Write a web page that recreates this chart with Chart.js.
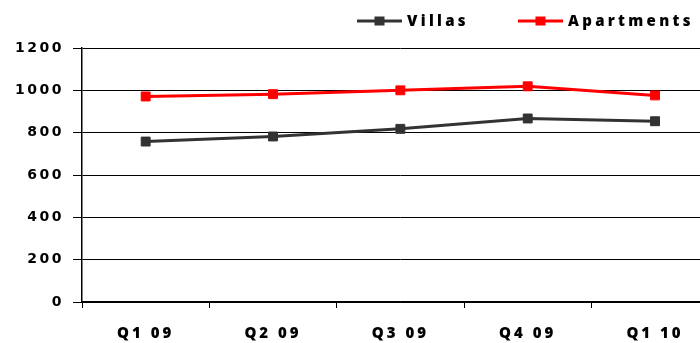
<!DOCTYPE html>
<html>
<head>
<meta charset="utf-8">
<script src="https://cdn.jsdelivr.net/npm/chart.js@4"></script>
<style>
  html, body { margin: 0; padding: 0; background: #fff; overflow: hidden; }
  #wrap { width: 726px; height: 343px; position: relative; }
</style>
</head>
<body>
<div id="wrap"><canvas id="chart"></canvas></div>
<script>
// Quarterly figures
const categories = ['Q1 09', 'Q2 09', 'Q3 09', 'Q4 09', 'Q1 10'];
const villas = [758, 782, 818, 867, 854];
const apartments = [971, 982, 1000, 1019, 976];
const yTicks = { min: 0, max: 1200, step: 200 };

// Letter spacing per axis for the tick labels
const AXIS_SPACING = { x: '3px', y: '2.5px' };

const spacedAxisLabels = {
  id: 'spacedAxisLabels',
  afterLayout(chart) {
    Object.keys(AXIS_SPACING).forEach(id => {
      const scale = chart.scales[id];
      if (!scale || scale.__spaced) return;
      const draw = scale.drawLabels;
      scale.drawLabels = function (area) {
        const ctx = this.ctx;
        ctx.save();
        ctx.letterSpacing = AXIS_SPACING[id];
        draw.call(this, area);
        ctx.restore();
      };
      scale.__spaced = true;
    });
  }
};

// Legend row above the plot: line sample with a square marker, then the series name
const lineLegend = {
  id: 'lineLegend',
  afterDraw(chart) {
    const ctx = chart.ctx;
    const starts = [357, 518];
    const y = 21;
    const sample = 45;
    chart.data.datasets.forEach((ds, i) => {
      const x0 = starts[i];
      ctx.save();
      ctx.strokeStyle = ds.borderColor;
      ctx.lineWidth = 3;
      ctx.beginPath();
      ctx.moveTo(x0, y);
      ctx.lineTo(x0 + sample, y);
      ctx.stroke();
      ctx.fillStyle = ds.pointBackgroundColor;
      ctx.fillRect(x0 + sample / 2 - 5, y - 4.5, 10, 9);
      ctx.fillStyle = '#000';
      ctx.font = '800 15px "Open Sans"';
      ctx.letterSpacing = '3.3px';
      ctx.textBaseline = 'middle';
      ctx.textAlign = 'left';
      ctx.fillText(ds.label, x0 + sample + 5, y + 1);
      ctx.restore();
    });
  }
};

new Chart(document.getElementById('chart'), {
  type: 'line',
  data: {
    labels: categories,
    datasets: [
      {
        label: 'Villas',
        data: villas,
        borderColor: '#333333',
        backgroundColor: '#333333',
        pointBackgroundColor: '#333333',
        pointBorderColor: '#333333',
        borderWidth: 3,
        pointStyle: 'rect',
        pointRadius: 6.3,
        pointBorderWidth: 1,
        tension: 0
      },
      {
        label: 'Apartments',
        data: apartments,
        borderColor: '#ff0000',
        backgroundColor: '#ff0000',
        pointBackgroundColor: '#ff0000',
        pointBorderColor: '#ff0000',
        borderWidth: 3,
        pointStyle: 'rect',
        pointRadius: 6.3,
        pointBorderWidth: 1,
        tension: 0
      }
    ]
  },
  options: {
    responsive: true,
    maintainAspectRatio: false,
    animation: false,
    layout: { padding: { top: 48, right: 0, bottom: 0, left: 0 } },
    plugins: {
      legend: { display: false },
      tooltip: { enabled: false }
    },
    scales: {
      x: {
        offset: true,
        grid: {
          display: true,
          offset: true,
          drawOnChartArea: false,
          drawTicks: true,
          tickLength: 6,
          color: '#000',
          lineWidth: 1
        },
        border: { display: true, color: '#000', width: 1.5 },
        ticks: {
          color: '#000',
          font: { family: '"Open Sans"', size: 15, weight: '800' },
          padding: 17,
          maxRotation: 0,
          autoSkip: false
        },
        afterFit(scale) { scale.height = 41; }
      },
      y: {
        min: yTicks.min,
        max: yTicks.max,
        grid: {
          color: '#000',
          lineWidth: 1,
          tickLength: 9,
          drawTicks: true
        },
        border: { display: true, color: '#000', width: 1.5 },
        ticks: {
          stepSize: yTicks.step,
          color: '#000',
          font: { family: '"DejaVu Sans"', size: 14, weight: 'bold' },
          padding: 9,
          callback: (value) => String(value)
        },
        afterFit(scale) { scale.width = 82; }
      }
    }
  },
  plugins: [spacedAxisLabels, lineLegend]
});
</script>
</body>
</html>
